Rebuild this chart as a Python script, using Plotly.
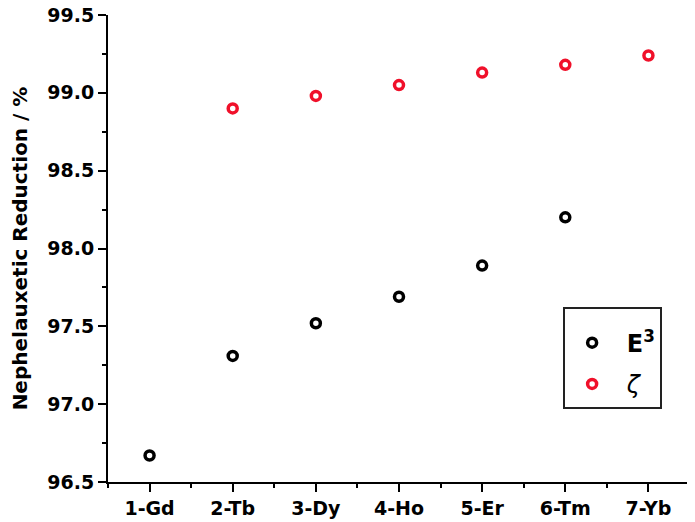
import plotly.graph_objects as go

categories = ["1-Gd", "2-Tb", "3-Dy", "4-Ho", "5-Er", "6-Tm", "7-Yb"]
e3_values = [96.67, 97.31, 97.52, 97.69, 97.89, 98.20, None]
zeta_values = [None, 98.90, 98.98, 99.05, 99.13, 99.18, 99.24]
y_ticks = [96.5, 97.0, 97.5, 98.0, 98.5, 99.0, 99.5]
y_ticktext = ["96.5", "97.0", "97.5", "98.0", "98.5", "99.0", "99.5"]

xi = list(range(len(categories)))
FONT = "DejaVu Sans"
RED = "#f0102a"

fig = go.Figure()
fig.add_trace(go.Scatter(
    x=xi, y=e3_values, mode="markers", name="&nbsp;<b>E<sup>3</sup></b>",
    legendgroup="a",
    marker=dict(symbol="circle-open", size=9, color="black", line=dict(width=3.5, color="black")),
))
fig.add_trace(go.Scatter(
    x=xi, y=zeta_values, mode="markers", name="&nbsp;<i>ζ</i>",
    legendgroup="b",
    marker=dict(symbol="circle-open", size=9, color=RED, line=dict(width=3.5, color=RED)),
))

# page body has an 8px margin: figure is drawn at (8, 8) in the window
fig.update_layout(
    width=687, height=514,
    margin=dict(l=100, r=5, t=7, b=40),
    paper_bgcolor="white", plot_bgcolor="white",
    font=dict(family=FONT, color="black", size=19),
    showlegend=True,
    legend=dict(
        x=0.782, y=0.375, xanchor="left", yanchor="top",
        bordercolor="#222", borderwidth=2, bgcolor="white",
        font=dict(family=FONT, size=24, color="black"),
        tracegroupgap=7, itemwidth=44,
        title=dict(text="&nbsp;", font=dict(family=FONT, size=9)),
    ),
)
fig.update_xaxes(
    range=[-0.5, 6.5], tickmode="array", tickvals=xi, ticktext=categories,
    showline=True, linecolor="black", linewidth=2, mirror=False,
    ticks="outside", ticklen=8, tickwidth=2, tickcolor="black",
    minor=dict(tickmode="linear", tick0=0.5, dtick=1, ticks="outside", ticklen=4, tickwidth=2, tickcolor="black"),
    showgrid=False, zeroline=False, automargin=False,
    tickfont=dict(family=FONT, size=19, color="black", weight="bold"),
)
fig.update_yaxes(
    range=[96.5, 99.5], tickmode="array", tickvals=y_ticks, ticktext=y_ticktext,
    showline=True, linecolor="black", linewidth=2,
    ticks="outside", ticklen=8, tickwidth=2, tickcolor="black",
    minor=dict(tickmode="linear", tick0=96.75, dtick=0.5, ticks="outside", ticklen=4, tickwidth=2, tickcolor="black"),
    showgrid=False, zeroline=False, automargin=False, ticklabeloverflow="allow",
    tickfont=dict(family=FONT, size=19, color="black", weight="bold"),
    title=dict(text="<b>Nephelauxetic Reduction / %</b>", font=dict(family=FONT, size=20, color="black"), standoff=34),
)

fig.write_html("out.html")
